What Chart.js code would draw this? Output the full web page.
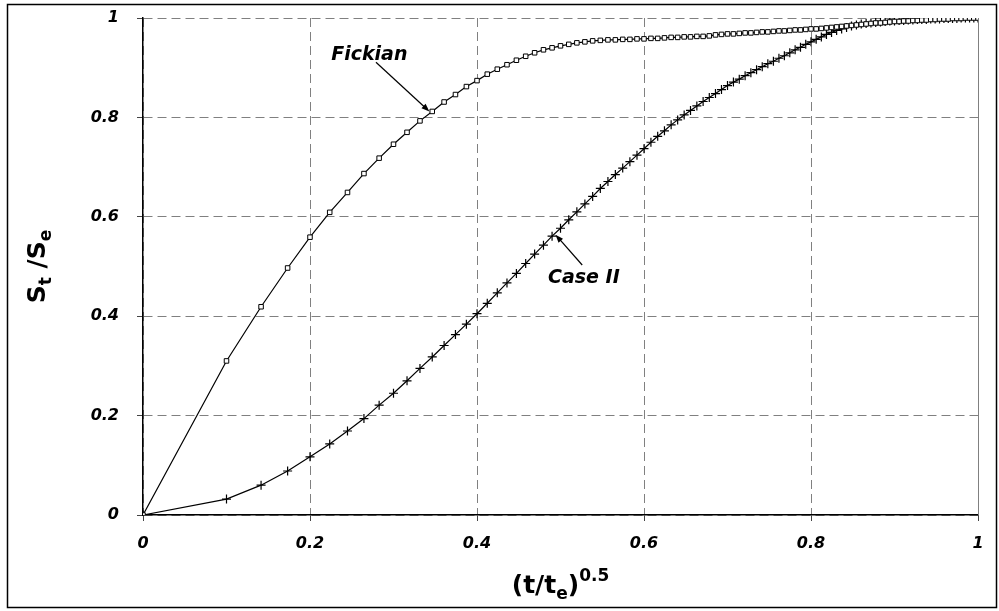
<!DOCTYPE html>
<html>
<head>
<meta charset="utf-8">
<script src="https://cdn.jsdelivr.net/npm/chart.js@4.4.1/dist/chart.umd.min.js"></script>
<style>
  html, body { margin: 0; padding: 0; background: #fff; }
  #wrap { width: 999px; height: 611px; }
</style>
</head>
<body>
<div id="wrap"><canvas id="c" width="999" height="611"></canvas></div>
<script>
// x positions of the samples: (t/te)^0.5
const xValues = [
  0, 0.1, 0.1414, 0.1732, 0.2, 0.2236, 0.2449, 0.2646, 0.2828, 0.3,
  0.3162, 0.3317, 0.3464, 0.3606, 0.3742, 0.3873, 0.4, 0.4123, 0.4243, 0.4359,
  0.4472, 0.4583, 0.4690, 0.4796, 0.4899, 0.5, 0.5099, 0.5196, 0.5292, 0.5385,
  0.5477, 0.5568, 0.5657, 0.5745, 0.5831, 0.5916, 0.6, 0.6083, 0.6164, 0.6245,
  0.6325, 0.6403, 0.6481, 0.6557, 0.6633, 0.6708, 0.6782, 0.6856, 0.6928, 0.7,
  0.7071, 0.7141, 0.7211, 0.7280, 0.7348, 0.7416, 0.7483, 0.7550, 0.7616, 0.7681,
  0.7746, 0.7810, 0.7874, 0.7937, 0.8, 0.8062, 0.8124, 0.8185, 0.8246, 0.8307,
  0.8367, 0.8426, 0.8485, 0.8544, 0.8602, 0.8660, 0.8718, 0.8775, 0.8832, 0.8888,
  0.8944, 0.9, 0.9055, 0.9110, 0.9165, 0.9220, 0.9274, 0.9327, 0.9381, 0.9434,
  0.9487, 0.9539, 0.9592, 0.9644, 0.9695, 0.9747, 0.9798, 0.9849, 0.9899, 0.9950,
  1.0
];

// St/Se, Fickian series
const fickian = [
  0, 0.310, 0.419, 0.497, 0.559, 0.609, 0.649, 0.687, 0.718, 0.746,
  0.770, 0.793, 0.812, 0.831, 0.846, 0.862, 0.874, 0.887, 0.897, 0.906,
  0.915, 0.923, 0.930, 0.936, 0.940, 0.944, 0.947, 0.950, 0.952, 0.954,
  0.955, 0.956, 0.956, 0.957, 0.957, 0.958, 0.958, 0.959, 0.959, 0.960,
  0.961, 0.961, 0.962, 0.962, 0.963, 0.963, 0.964, 0.966, 0.967, 0.968,
  0.968, 0.969, 0.970, 0.970, 0.971, 0.972, 0.972, 0.973, 0.974, 0.974,
  0.975, 0.976, 0.976, 0.977, 0.978, 0.978, 0.979, 0.980, 0.981, 0.982,
  0.983, 0.984, 0.985, 0.986, 0.987, 0.988, 0.989, 0.990, 0.990, 0.991,
  0.992, 0.993, 0.993, 0.994, 0.994, 0.995, 0.995, 0.996, 0.996, 0.997,
  0.997, 0.998, 0.998, 0.998, 0.999, 0.999, 0.999, 1.0, 1.0, 1.0,
  1.0
];

// St/Se, Case II series
const caseII = [
  0, 0.032, 0.060, 0.0885, 0.117, 0.143, 0.169, 0.194, 0.221, 0.245,
  0.270, 0.295, 0.318, 0.341, 0.363, 0.384, 0.405, 0.426, 0.447, 0.467,
  0.486, 0.506, 0.525, 0.543, 0.561, 0.577, 0.594, 0.610, 0.626, 0.641,
  0.657, 0.671, 0.685, 0.698, 0.711, 0.724, 0.737, 0.750, 0.762, 0.773,
  0.785, 0.795, 0.805, 0.814, 0.823, 0.832, 0.840, 0.848, 0.856, 0.864,
  0.871, 0.877, 0.884, 0.890, 0.896, 0.902, 0.908, 0.913, 0.919, 0.924,
  0.930, 0.936, 0.941, 0.947, 0.952, 0.957, 0.962, 0.967, 0.971, 0.975,
  0.978, 0.981, 0.984, 0.986, 0.988, 0.989, 0.990, 0.991, 0.992, 0.993,
  0.994, 0.994, 0.995, 0.995, 0.996, 0.996, 0.997, 0.997, 0.997, 0.998,
  0.998, 0.998, 0.999, 0.999, 0.999, 0.999, 1.0, 1.0, 1.0, 1.0,
  1.0
];

const xTicks = [0, 0.2, 0.4, 0.6, 0.8, 1];
const yTicks = [0, 0.2, 0.4, 0.6, 0.8, 1];
const tickLabel = v => String(Number(v.toFixed(1)));

// series label annotations (data coordinates)
const labels = [
  { text: 'Fickian', x: 0.271, y: 0.925, ax1: 0.279, ay1: 0.911, ax2: 0.343, ay2: 0.812 },
  { text: 'Case II', x: 0.528, y: 0.477, ax1: 0.526, ay1: 0.503, ax2: 0.494, ay2: 0.564 }
];

const toPts = ys => xValues.map((x, i) => ({ x: x, y: ys[i] }));

const FONT = '"DejaVu Sans", Verdana, sans-serif';

function arrow(ctx, x1, y1, x2, y2) {
  const ang = Math.atan2(y2 - y1, x2 - x1);
  const L = 8, W = 3;
  ctx.beginPath();
  ctx.moveTo(x1, y1);
  ctx.lineTo(x2 - Math.cos(ang) * (L - 1), y2 - Math.sin(ang) * (L - 1));
  ctx.stroke();
  ctx.beginPath();
  ctx.moveTo(x2, y2);
  ctx.lineTo(x2 - Math.cos(ang) * L + Math.sin(ang) * W, y2 - Math.sin(ang) * L - Math.cos(ang) * W);
  ctx.lineTo(x2 - Math.cos(ang) * L - Math.sin(ang) * W, y2 - Math.sin(ang) * L + Math.cos(ang) * W);
  ctx.closePath();
  ctx.fill();
}

const decor = {
  id: 'decor',
  beforeDatasetsDraw(chart) {
    const ctx = chart.ctx;
    const xs = chart.scales.x;
    const ca = chart.chartArea;
    ctx.save();
    // right border of plot (solid gray)
    ctx.strokeStyle = '#808080';
    ctx.lineWidth = 1;
    ctx.setLineDash([]);
    const px = Math.round(xs.getPixelForValue(1)) + 0.5;
    ctx.beginPath();
    ctx.moveTo(px, ca.top);
    ctx.lineTo(px, ca.bottom);
    ctx.stroke();
    ctx.restore();
  },
  afterDraw(chart) {
    const ctx = chart.ctx;
    const xs = chart.scales.x, ys = chart.scales.y;
    const ca = chart.chartArea;
    ctx.save();
    ctx.setLineDash([]);
    // outer frame
    ctx.strokeStyle = '#000';
    ctx.lineWidth = 1.5;
    ctx.strokeRect(7.5, 4.5, 989, 603);

    ctx.fillStyle = '#000';
    // x title: (t/te)^0.5
    const big = 'bold 25px ' + FONT, small = 'bold 17px ' + FONT;
    const parts = [
      { t: '(t/t', f: big, dy: 0 },
      { t: 'e', f: small, dy: 6 },
      { t: ')', f: big, dy: 0 },
      { t: '0.5', f: small, dy: -12 }
    ];
    let total = 0;
    parts.forEach(p => { ctx.font = p.f; p.w = ctx.measureText(p.t).width; total += p.w; });
    let cx = (ca.left + ca.right) / 2 - total / 2;
    ctx.textBaseline = 'alphabetic';
    ctx.textAlign = 'left';
    parts.forEach(p => { ctx.font = p.f; ctx.fillText(p.t, cx, 593 + p.dy); cx += p.w; });

    // y title: St /Se (rotated)
    const yparts = [
      { t: 'S', f: big, dy: 0 },
      { t: 't', f: small, dy: 6 },
      { t: ' /S', f: big, dy: 0 },
      { t: 'e', f: small, dy: 6 }
    ];
    total = 0;
    yparts.forEach(p => { ctx.font = p.f; p.w = ctx.measureText(p.t).width; total += p.w; });
    ctx.save();
    ctx.translate(45, (ca.top + ca.bottom) / 2);
    ctx.rotate(-Math.PI / 2);
    cx = -total / 2;
    yparts.forEach(p => { ctx.font = p.f; ctx.fillText(p.t, cx, p.dy); cx += p.w; });
    ctx.restore();

    // series labels and arrows
    ctx.font = 'italic bold 19px ' + FONT;
    ctx.textAlign = 'center';
    ctx.textBaseline = 'middle';
    ctx.lineWidth = 1.2;
    ctx.strokeStyle = '#000';
    labels.forEach(l => {
      ctx.fillText(l.text, xs.getPixelForValue(l.x), ys.getPixelForValue(l.y));
      arrow(ctx, xs.getPixelForValue(l.ax1), ys.getPixelForValue(l.ay1),
                 xs.getPixelForValue(l.ax2), ys.getPixelForValue(l.ay2));
    });
    ctx.restore();
  }
};

const tickFont = { family: FONT, size: 16, style: 'italic', weight: 'bold' };

new Chart(document.getElementById('c'), {
  type: 'scatter',
  data: {
    datasets: [
      {
        label: 'Fickian',
        data: toPts(fickian),
        showLine: true,
        borderColor: '#000',
        borderWidth: 1.2,
        pointStyle: 'rect',
        pointRadius: 3.2,
        pointBorderWidth: 1,
        pointBorderColor: '#000',
        pointBackgroundColor: '#fff',
        tension: 0
      },
      {
        label: 'Case II',
        data: toPts(caseII),
        showLine: true,
        borderColor: '#000',
        borderWidth: 1.2,
        pointStyle: 'cross',
        pointRadius: 4.5,
        pointBorderWidth: 1.2,
        pointBorderColor: '#000',
        tension: 0
      }
    ]
  },
  options: {
    responsive: false,
    animation: false,
    devicePixelRatio: 1,
    layout: { padding: { top: 18, right: 21, left: 0, bottom: 0 } },
    plugins: { legend: { display: false }, tooltip: { enabled: false }, title: { display: false } },
    scales: {
      x: {
        type: 'linear',
        min: 0, max: 1,
        afterFit: s => { s.height = 96; },
        afterBuildTicks: s => { s.ticks = xTicks.map(v => ({ value: v })); },
        ticks: { callback: tickLabel, font: tickFont, color: '#000', padding: 13, maxRotation: 0 },
        grid: {
          color: '#808080', lineWidth: 1,
          drawTicks: true, tickLength: 6, tickColor: '#444', tickBorderDash: [],
          tickWidth: 1
        },
        border: { display: true, color: '#000', width: 1.5, dash: [9, 5] }
      },
      y: {
        type: 'linear',
        min: 0, max: 1,
        afterFit: s => { s.width = 143; s.paddingTop = 0; s.paddingBottom = 0; },
        afterBuildTicks: s => { s.ticks = yTicks.map(v => ({ value: v })); },
        ticks: { callback: tickLabel, font: tickFont, color: '#000', padding: 18 },
        grid: {
          color: '#808080', lineWidth: 1,
          drawTicks: true, tickLength: 6, tickColor: '#444', tickBorderDash: [],
          tickWidth: 1
        },
        border: { display: true, color: '#000', width: 1.5, dash: [9, 5] }
      }
    }
  },
  plugins: [decor]
});
</script>
</body>
</html>
